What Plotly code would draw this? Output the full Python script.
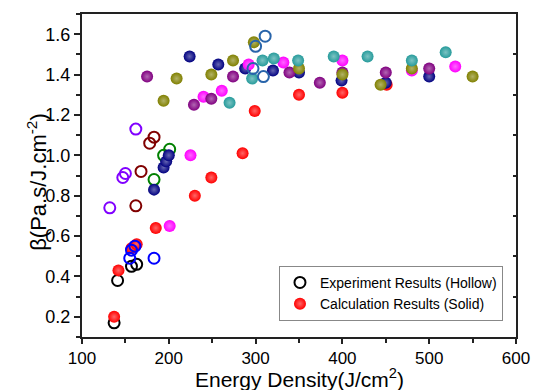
import plotly.graph_objects as go

# ---- data ----
x_ticks = [100, 200, 300, 400, 500, 600]
y_ticks = [0.2, 0.4, 0.6, 0.8, 1.0, 1.2, 1.4, 1.6]
y_right_ticks = [0.3, 0.5, 0.7, 0.9, 1.1, 1.3, 1.5]

black_x = [137, 141, 157, 163]
black_y = [0.17, 0.38, 0.45, 0.46]

red_x = [137, 142, 157, 163, 185, 230, 249, 285, 299, 350, 400, 451]
red_y = [0.20, 0.43, 0.54, 0.56, 0.64, 0.80, 0.89, 1.01, 1.22, 1.30, 1.31, 1.35]

blue_x = [155, 157, 161, 183]
blue_y = [0.49, 0.53, 0.55, 0.49]

violet_x = [132, 147, 150, 162]
violet_y = [0.74, 0.89, 0.91, 1.13]

maroon_x = [162, 168, 178, 183]
maroon_y = [0.75, 0.92, 1.06, 1.09]

green_x = [183, 194, 201]
green_y = [0.88, 1.00, 1.03]

navy_x = [183, 194, 197, 200, 224, 257, 288, 320, 350, 399, 450, 500]
navy_y = [0.83, 0.94, 0.97, 1.00, 1.49, 1.45, 1.43, 1.42, 1.41, 1.37, 1.36, 1.39]

magenta_x = [201, 225, 240, 261, 292, 332, 400, 480, 530]
magenta_y = [0.65, 1.00, 1.29, 1.32, 1.45, 1.46, 1.47, 1.42, 1.44]

purple_x = [175, 229, 249, 274, 339, 374, 400, 450, 500]
purple_y = [1.39, 1.25, 1.28, 1.39, 1.41, 1.36, 1.41, 1.41, 1.43]

olive_x = [194, 209, 249, 274, 298, 350, 400, 444, 480, 550]
olive_y = [1.27, 1.38, 1.40, 1.47, 1.56, 1.43, 1.40, 1.35, 1.43, 1.39]

teal_x = [270, 296, 308, 321, 349, 390, 429, 480, 519]
teal_y = [1.26, 1.38, 1.47, 1.48, 1.47, 1.49, 1.49, 1.47, 1.51]

royal_x = [297, 300, 309, 311]
royal_y = [1.43, 1.54, 1.39, 1.59]

legend_names = ["Experiment Results (Hollow)", "Calculation Results (Solid)"]
x_title = "Energy Density(J/cm<sup>2</sup>)"
y_title = "β(Pa.s/J.cm<sup>-2</sup>)"

# (x, y, color, hollow)
series = [
    (black_x, black_y, "#000000", True),
    (red_x, red_y, "#FF0000", False),
    (blue_x, blue_y, "#0000FF", True),
    (violet_x, violet_y, "#8000FF", True),
    (maroon_x, maroon_y, "#800000", True),
    (green_x, green_y, "#008000", True),
    (navy_x, navy_y, "#000080", False),
    (magenta_x, magenta_y, "#FF00FF", False),
    (purple_x, purple_y, "#800080", False),
    (olive_x, olive_y, "#808000", False),
    (teal_x, teal_y, "#269B9B", False),
    (royal_x, royal_y, "#2864AA", True),
]


def tint(hex_color, f=0.4):
    h = hex_color.lstrip("#")
    r, g, b = int(h[0:2], 16), int(h[2:4], 16), int(h[4:6], 16)
    r = int(r + (255 - r) * f)
    g = int(g + (255 - g) * f)
    b = int(b + (255 - b) * f)
    return "rgb(%d,%d,%d)" % (r, g, b)


def marker_style(color, hollow):
    if hollow:
        return dict(symbol="circle-open", size=11, color=color,
                    line=dict(width=2, color=color))
    return dict(symbol="circle", size=12, color=color,
                line=dict(width=0),
                gradient=dict(type="radial", color=tint(color)))


fig = go.Figure()
for sx, sy, col, hol in series:
    fig.add_trace(go.Scatter(x=sx, y=sy, mode="markers",
                             marker=marker_style(col, hol),
                             showlegend=False, hoverinfo="skip"))

# legend entries
fig.add_trace(go.Scatter(x=[None], y=[None], mode="markers", name=legend_names[0],
                         marker=marker_style("#000000", True)))
fig.add_trace(go.Scatter(x=[None], y=[None], mode="markers", name=legend_names[1],
                         marker=marker_style("#FF0000", False)))
# invisible trace for the right-hand inner ticks
fig.add_trace(go.Scatter(x=[None], y=[None], yaxis="y2", mode="markers",
                         showlegend=False, hoverinfo="skip"))

font_family = "Arial, Liberation Sans, sans-serif"
axis_color = "#222222"

fig.update_layout(
    width=534, height=390,
    margin=dict(l=82, r=18, t=14, b=53, autoexpand=False),
    paper_bgcolor="white", plot_bgcolor="white",
    font=dict(family=font_family, color="#000000", size=18),
    xaxis=dict(
        range=[100, 600], tickvals=x_ticks, ticks="outside", ticklen=5,
        tickwidth=1.5, tickcolor=axis_color,
        minor=dict(dtick=50, tick0=100, ticks="outside", ticklen=4,
                   tickwidth=1.5, tickcolor=axis_color),
        showline=True, linewidth=2, linecolor=axis_color, mirror=True,
        showgrid=False, zeroline=False,
        tickfont=dict(size=17),
    ),
    yaxis=dict(
        range=[0.1, 1.7], tickvals=y_ticks, ticktext=["%.1f" % v for v in y_ticks],
        ticks="outside", ticklen=6, tickwidth=1.5, tickcolor=axis_color,
        minor=dict(dtick=0.1, tick0=0.1, ticks="outside", ticklen=4,
                   tickwidth=1.5, tickcolor=axis_color),
        showline=True, linewidth=2, linecolor=axis_color, mirror=True,
        showgrid=False, zeroline=False,
        tickfont=dict(size=18),
    ),
    yaxis2=dict(
        overlaying="y", side="right", range=[0.1, 1.7],
        tickvals=y_right_ticks, ticks="inside", ticklen=3, tickwidth=1.5,
        tickcolor=axis_color, showticklabels=False, showline=False,
        showgrid=False, zeroline=False,
    ),
    legend=dict(
        x=0.970, xanchor="right", y=0.05, yanchor="bottom",
        bgcolor="white", bordercolor="#888888", borderwidth=1,
        font=dict(size=14, family=font_family),
        tracegroupgap=0, itemsizing="trace",
    ),
    annotations=[
        dict(text=y_title, textangle=-90,
             xref="paper", yref="paper", x=-0.104, y=0.48,
             xanchor="center", yanchor="middle", showarrow=False,
             font=dict(size=22, family=font_family, color="#000000")),
        dict(text=x_title,
             xref="paper", yref="paper", x=0.5, y=-0.174,
             xanchor="center", yanchor="bottom", showarrow=False,
             font=dict(size=21, family=font_family, color="#000000")),
    ],
)

fig.write_html("out.html")
